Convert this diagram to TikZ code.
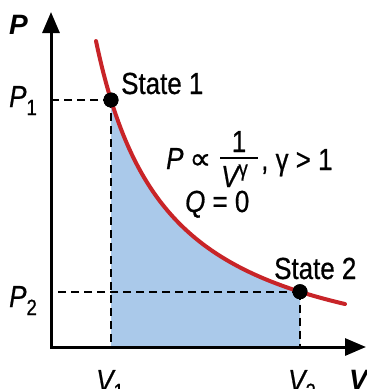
\documentclass[tikz,border=0pt]{standalone}
\usepackage{fontspec}
\usetikzlibrary{arrows.meta}
\newfontfamily\lab[FakeStretch=0.85,FakeBold=0.6]{Liberation Sans}
\newfontfamily\axlab{Liberation Sans}
\newfontfamily\symf[FakeStretch=1.0,FakeBold=0.6]{DejaVu Sans}
\definecolor{curvered}{RGB}{200,36,40}
\definecolor{areablue}{RGB}{170,201,234}
\newcommand{\bigtxt}{\fontsize{30.5}{35}\selectfont}
\newcommand{\subtxt}{\fontsize{22}{25}\selectfont}
\tikzset{
  txt/.style={inner sep=0pt, anchor=base west, font=\lab\bigtxt},
  axlabel/.style={inner sep=0pt, anchor=base west, font=\axlab\fontsize{28}{32}\selectfont\bfseries\itshape},
  axisline/.style={line width=3pt, line join=miter, {Triangle[length=21pt,width=17pt]}-{Triangle[length=21pt,width=17pt]}},
  guide/.style={line width=2.2pt, dash pattern=on 8pt off 5pt},
  statedot/.style={circle, fill=black, inner sep=0pt, minimum size=15pt},
  curveline/.style={line width=4pt, curvered, line cap=round}
}
\begin{document}
\begin{tikzpicture}[x=1pt,y=-1pt]
\useasboundingbox (0,0) rectangle (367,389);
\fill[white] (0,0) rectangle (367,389);
\coordinate (O) at (51,347);
\coordinate (yt) at (51,12);
\coordinate (xt) at (366,347);
% shaded area under the adiabat
\fill[areablue] plot[domain=111:300, samples=80] (\x, {379-239.94/((\x-25)/100)}) -- (300,347) -- (111,347) -- cycle;
% state points
\node[statedot] (s1) at (111,100) {};
\node[statedot] (s2) at (300,291.7) {};
% guides
\draw[guide] (s1.center) -- (s1.center -| O);
\draw[guide] (s1.center) -- (s1.center |- O);
\draw[guide] (s2.center) -- (s2.center -| O);
\draw[guide] (s2.center) -- (s2.center |- O);
% curve
\draw[curveline] plot[domain=96:345, samples=120] (\x, {379-239.94/((\x-25)/100)});
\node[statedot] at (s1.center) {};
\node[statedot] at (s2.center) {};
% axes
\draw[axisline] (yt) -- (O) -- (xt);
% axis labels
\node[axlabel] (plab) at (9,34) {P};
\node[axlabel] (vlab) at (349,389) {V};
\node[txt] (p1) at (9,107) {\itshape P\upshape\raisebox{-8pt}{\subtxt 1}};
\node[txt] (p2) at (9,307) {\itshape P\upshape\raisebox{-8pt}{\subtxt 2}};
\node[txt] (v1) at (96,391) {\itshape V\upshape\raisebox{-8pt}{\subtxt 1}};
\node[txt] (v2) at (288,391) {\itshape V\upshape\raisebox{-8pt}{\subtxt 2}};
% state labels
\node[txt] (st1) at (121,94) {State 1};
\node[txt] (st2) at (274,279) {State 2};
% formula
\node[txt] (lawp) at (166,169) {\itshape P\upshape\hspace{6pt}{\symf ∝}};
\node[txt, anchor=base] (num) at (239,152) {1};
\draw[line width=2pt] (220,158) -- (258,158);
\node[txt] (den) at (221,187) {\itshape V\upshape\raisebox{11pt}{\subtxt γ}};
\node[txt] (cond) at (261,170) {, γ > 1};
\node[txt] (q) at (185,212) {\itshape Q\upshape\ = 0};
\end{tikzpicture}
\end{document}
